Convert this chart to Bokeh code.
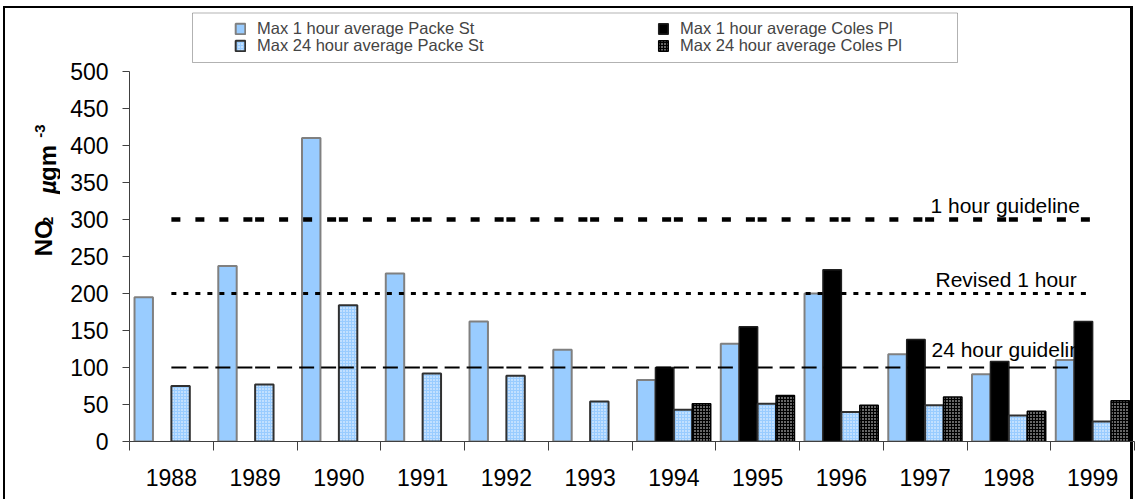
import numpy as np
from bokeh.plotting import figure
from bokeh.layouts import row
from bokeh.models import (Range1d, FixedTicker, Legend, LegendItem,
                          BoxAnnotation, ColumnDataSource)
from bokeh.transform import dodge
from bokeh.core.properties import value
from bokeh.embed import file_html
from bokeh.resources import INLINE

# ---- data -------------------------------------------------------------
years = ["1988", "1989", "1990", "1991", "1992", "1993",
         "1994", "1995", "1996", "1997", "1998", "1999"]
packe_1h = [195, 237, 410, 227, 162, 124, 83, 132, 200, 118, 91, 110]
packe_24h = [75, 77, 184, 92, 89, 54, 43, 51, 40, 49, 35, 27]

coles_years = ["1994", "1995", "1996", "1997", "1998", "1999"]
coles_1h = [100, 155, 232, 138, 108, 162]
coles_24h = [51, 62, 49, 60, 41, 55]

y_ticks = [0, 50, 100, 150, 200, 250, 300, 350, 400, 450, 500]

guide_values = [300, 200, 100]
guide_labels = ["1 hour guideline", "Revised 1 hour", "24 hour guideline"]

series_labels = ["Max 1 hour average Packe St", "Max 24 hour average Packe St",
                 "Max 1 hour average Coles Pl", "Max 24 hour average Coles Pl"]

# ---- layout constants ---------------------------------------------------
W, H = 1136, 499
TITLE_W = 60                            # strip holding the y axis title
FL, FR, FT, FB = 129, 2, 9, 58          # frame borders in page px
PX_PER_UNIT = 0.74                      # vertical scale (px per ug/m3)
frame_w = W - FL - FR
frame_h = H - FT - FB
cat_px = frame_w / len(years)

FONT = "Liberation Sans"
AXIS_COLOR = "#404040"


def px_to_x(px):
    return (px - FL) / cat_px - 0.5


def py_to_y(py):
    return (H - FB - py) / PX_PER_UNIT


p = figure(width=W - TITLE_W, height=H, output_backend="svg", toolbar_location=None,
           x_range=Range1d(-0.5, len(years) - 0.5),
           y_range=Range1d(0, frame_h / PX_PER_UNIT),
           min_border_left=FL - TITLE_W, min_border_right=FR,
           min_border_top=FT, min_border_bottom=FB)
p.outline_line_color = None
p.border_fill_color = None
p.background_fill_color = None
p.xgrid.visible = False
p.ygrid.visible = False

# ---- axes ---------------------------------------------------------------
idx = list(range(len(years)))
xa = p.xaxis[0]
xa.ticker = FixedTicker(ticks=idx, minor_ticks=[i - 0.5 for i in range(len(years) + 1)])
xa.major_label_overrides = {i: y for i, y in zip(idx, years)}
xa.major_tick_in = 0
xa.major_tick_out = 0
xa.minor_tick_in = 0
xa.minor_tick_out = 9
xa.minor_tick_line_color = AXIS_COLOR
xa.axis_line_color = AXIS_COLOR
xa.major_label_text_font = FONT
xa.major_label_text_font_size = "23px"
xa.major_label_text_color = "black"
xa.major_label_standoff = 18

ya = p.yaxis[0]
ya.ticker = FixedTicker(ticks=y_ticks)
ya.bounds = (0, 500)
ya.major_tick_in = 0
ya.major_tick_out = 7
ya.major_tick_line_color = AXIS_COLOR
ya.minor_tick_line_color = None
ya.axis_line_color = AXIS_COLOR
ya.major_label_text_font = FONT
ya.major_label_text_font_size = "23px"
ya.major_label_text_color = "black"
ya.major_label_standoff = 14

# ---- bars ---------------------------------------------------------------
packe_src = ColumnDataSource(dict(x=idx, one=packe_1h, day=packe_24h))
coles_src = ColumnDataSource(dict(x=[years.index(y) for y in coles_years],
                                  one=coles_1h, day=coles_24h))
BW = 0.22

r_p1 = p.vbar(x=dodge("x", -0.33, range=p.x_range), top="one", width=BW, source=packe_src,
              fill_color="#99CCFF", line_color="#808080", line_width=2)
r_c1 = p.vbar(x=dodge("x", -0.11, range=p.x_range), top="one", width=BW, source=coles_src,
              fill_color="black", line_color="#202020", line_width=1.5)
r_p24 = p.vbar(x=dodge("x", 0.11, range=p.x_range), top="day", width=BW, source=packe_src,
               fill_color="#99CCFF", hatch_pattern="dot", hatch_color="white",
               hatch_scale=3, hatch_weight=1.2,
               line_color="#303030", line_width=2)
r_c24 = p.vbar(x=dodge("x", 0.33, range=p.x_range), top="day", width=BW, source=coles_src,
               fill_color="black", hatch_pattern="dot", hatch_color="white",
               hatch_scale=3, hatch_weight=1.2,
               line_color="black", line_width=1.5)

# ---- guideline lines (one segment per pair of neighbouring years) --------
guide_styles = [dict(line_width=4.5, line_dash="9 15"),
                dict(line_width=3, line_dash="5 7"),
                dict(line_width=2, line_dash="15 7")]
for v, st in zip(guide_values, guide_styles):
    p.segment(x0=idx[:-1], x1=idx[1:], y0=[v] * (len(idx) - 1), y1=[v] * (len(idx) - 1),
              line_color="black", line_cap="butt", **st)

label_px_x = [930, 935, 931]
label_px_lift = [14, 14, 18]
p.text(x=[px_to_x(v) for v in label_px_x],
       y=[v + d / PX_PER_UNIT for v, d in zip(guide_values, label_px_lift)],
       text=guide_labels, text_font=value(FONT), text_font_size="21px",
       text_color="black", text_align="left", text_baseline="alphabetic")

# ---- legend ---------------------------------------------------------------
box = BoxAnnotation(left=px_to_x(192), right=px_to_x(957),
                    top=py_to_y(12.5), bottom=py_to_y(62),
                    fill_color="white", fill_alpha=1,
                    line_color="black", line_width=1)
p.add_layout(box)

legend_spots = [(234, 18), (234, 35.5), (657, 18), (657, 35.5)]   # glyph left, item top
for lab, rend, (lx, ly) in zip(series_labels, [r_p1, r_p24, r_c1, r_c24], legend_spots):
    lg = Legend(items=[LegendItem(label=lab, renderers=[rend])],
                location=(lx - FL, H - FB - (ly + 20)),
                border_line_color=None, background_fill_alpha=0,
                padding=0, margin=0, spacing=0,
                glyph_width=12, glyph_height=13, label_height=20,
                label_standoff=11,
                label_text_font=FONT, label_text_font_size="16.5px")
    p.add_layout(lg)

# ---- y axis title strip: NO2  ug m-3 -------------------------------------
t = figure(width=TITLE_W, height=H, output_backend="svg", toolbar_location=None,
           x_range=Range1d(0, TITLE_W), y_range=Range1d(0, H),
           x_axis_location=None, y_axis_location=None, min_border=0)
t.outline_line_color = None
t.border_fill_color = None
t.background_fill_color = None
t.grid.visible = False

title_parts = ["NO", "2", "\u00b5", "gm", "-3"]
title_px = [(43, 285), (47, 249), (47, 213), (47, 198), (39, 148)]
title_size = ["24px", "15px", "24px", "24px", "15px"]
title_style = ["bold", "bold", "bold italic", "bold", "bold"]
for txt, (cx, cy), sz, stl in zip(title_parts, title_px, title_size, title_style):
    t.text(x=[cx], y=[H - cy], text=[txt], angle=np.pi / 2,
           text_font=value(FONT), text_font_size=sz, text_font_style=stl,
           text_color="black", text_align="left", text_baseline="alphabetic")

layout = row(t, p, spacing=0)
# outer chart frame (left, top and right edges)
layout.styles = {"box-shadow": "inset 3px 6px 0 0 #ffffff, inset -3px 0 0 0 #ffffff, "
                               "inset 5px 8px 0 0 #000000, inset -6px 0 0 0 #000000"}

open("out.html", "w").write(file_html(layout, INLINE))
